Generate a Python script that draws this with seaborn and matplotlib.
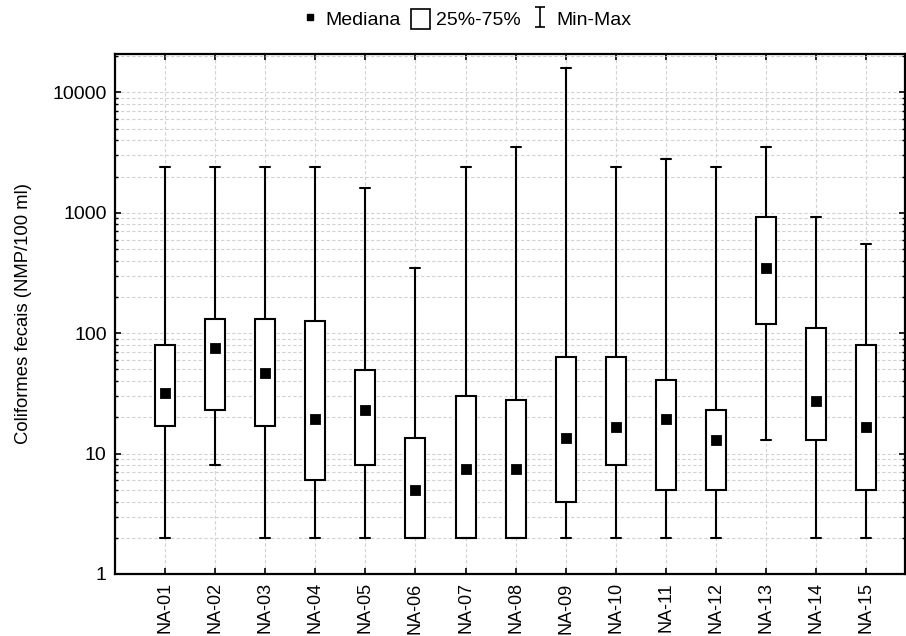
import numpy as np
import pandas as pd
import seaborn as sns
import matplotlib.pyplot as plt
from matplotlib.lines import Line2D
from matplotlib.patches import Patch
from matplotlib.path import Path
from matplotlib.ticker import LogLocator, NullFormatter

# dados (NMP/100 ml)
estacoes = ['NA-01', 'NA-02', 'NA-03', 'NA-04', 'NA-05', 'NA-06', 'NA-07', 'NA-08',
            'NA-09', 'NA-10', 'NA-11', 'NA-12', 'NA-13', 'NA-14', 'NA-15']
minimo = [2, 8, 2, 2, 2, 2, 2, 2, 2, 2, 2, 2, 13, 2, 2]
q25 = [17, 23, 17, 6, 8, 2, 2, 2, 4, 8, 5, 5, 120, 13, 5]
mediana = [32, 75, 47, 19.5, 23, 5, 7.4, 7.4, 13.6, 16.7, 19.4, 13, 350, 27.5, 16.7]
q75 = [80, 130, 130, 126, 49, 13.5, 30, 28, 63, 64, 41, 23, 930, 110, 80]
maximo = [2400, 2400, 2400, 2400, 1600, 350, 2400, 3500, 16000, 2400, 2800, 2400,
          3500, 930, 550]
yticks = [1, 10, 100, 1000, 10000]

# 5 pontos por estação -> quartis exatos, whiskers em min/max
linhas = []
for i, est in enumerate(estacoes):
    for v in (minimo[i], q25[i], mediana[i], q75[i], maximo[i]):
        linhas.append({'Estacao': est, 'Valor': v})
df = pd.DataFrame(linhas)
df_med = pd.DataFrame({'Estacao': estacoes, 'Mediana': mediana})

sns.set_style('white')
plt.rcParams['font.family'] = ['Liberation Sans', 'DejaVu Sans']
plt.rcParams['text.color'] = 'black'
plt.rcParams['axes.labelcolor'] = 'black'
plt.rcParams['xtick.color'] = 'black'
plt.rcParams['ytick.color'] = 'black'

fig = plt.figure(figsize=(9.06, 6.36), dpi=100)
ax = fig.add_axes([0.127, 0.0975, 0.872, 0.8176])

sns.boxplot(data=df, x='Estacao', y='Valor', order=estacoes, whis=(0, 100),
            width=0.4, color='white', linecolor='black', linewidth=1.5,
            log_scale=True, showfliers=False,
            medianprops={'visible': False}, ax=ax)
sns.pointplot(data=df_med, x='Estacao', y='Mediana', order=estacoes,
              color='black', marker='s', markersize=6, linestyle='none',
              errorbar=None, ax=ax)

ax.set_yscale('log')
ax.set_ylim(1, 10 ** 4.319)
ax.set_xlim(-1, 14.78)
ax.set_yticks(yticks)
ax.set_yticklabels([str(t) for t in yticks], fontsize=14)
ax.yaxis.set_minor_locator(LogLocator(base=10, subs=np.arange(2, 10)))
ax.yaxis.set_minor_formatter(NullFormatter())
ax.set_xticks(range(len(estacoes)))
ax.set_xticklabels(estacoes, rotation=90, fontsize=13)
ax.set_xlabel('')
ax.set_ylabel('Coliformes fecais (NMP/100 ml)', fontsize=13.3, labelpad=15)

ax.set_axisbelow(True)
ax.grid(axis='y', which='both', linestyle=(0, (3, 2)), color='#d2d2d2', linewidth=0.8)
ax.grid(axis='x', which='major', linestyle=(0, (3, 2)), color='#d2d2d2', linewidth=0.8)
ax.tick_params(axis='both', which='major', direction='in', length=4, width=1.2,
               top=True, right=True, left=True, bottom=True, colors='black', pad=6)
ax.tick_params(axis='y', which='minor', direction='in', length=2.5, width=1,
               left=True, right=True)
for sp in ax.spines.values():
    sp.set_color('black')
    sp.set_linewidth(1.6)

# legenda
ibeam = Path([(-0.5, 1), (0.5, 1), (0, 1), (0, -1), (-0.5, -1), (0.5, -1)],
             [Path.MOVETO, Path.LINETO, Path.MOVETO, Path.LINETO, Path.MOVETO, Path.LINETO])
handles = [
    Line2D([], [], linestyle='none', marker='s', color='black', markersize=5),
    Patch(facecolor='white', edgecolor='black', linewidth=1.2),
    Line2D([], [], linestyle='none', marker=ibeam, markersize=15,
           markerfacecolor='none', markeredgecolor='black', markeredgewidth=1.2),
]
fig.legend(handles, ['Mediana', '25%-75%', 'Min-Max'], loc='center',
           bbox_to_anchor=(0.514, 1 - 19 / 636), ncol=3, frameon=False,
           fontsize=14, handlelength=1.0, handletextpad=0.3, columnspacing=0.5,
           handleheight=1.2)

plt.savefig('out.png', dpi=100)
plt.close()
